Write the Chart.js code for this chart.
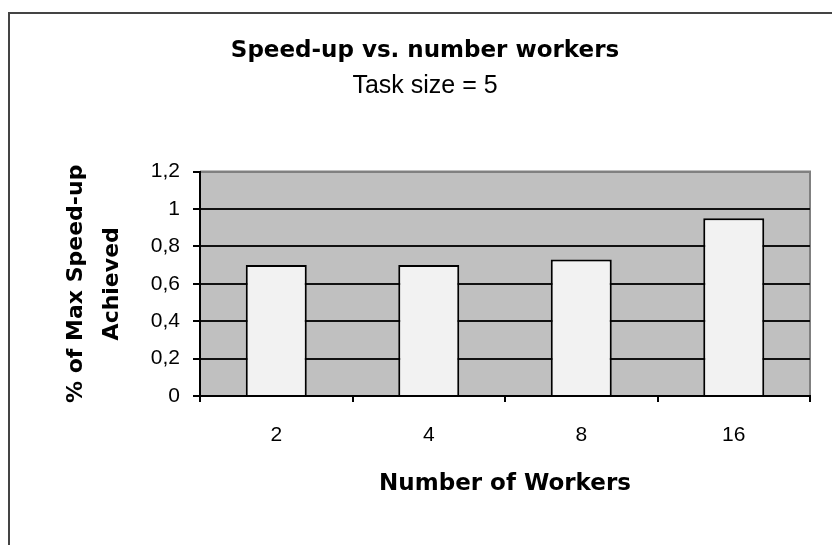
<!DOCTYPE html>
<html>
<head>
<meta charset="UTF-8">
<title>Speed-up vs. number workers</title>
<style>
  body { margin: 0; background: #fff; overflow: hidden; }
  /* outer chart frame, runs off the right/bottom edge like the screenshot */
  #frame { position: absolute; left: 8px; top: 12px; width: 900px; height: 700px; border: 2px solid #444; }
  #wrap { position: absolute; left: 0; top: 0; width: 832px; height: 545px; }
</style>
</head>
<body>
<div id="frame"></div>
<div id="wrap"><canvas id="barChart" width="832" height="545"></canvas></div>

<script src="https://cdn.jsdelivr.net/npm/chart.js"></script>
<script>
// data
const workers = ['2', '4', '8', '16'];
const speedup = [0.7, 0.7, 0.73, 0.95];
const yTicks = [0, 0.2, 0.4, 0.6, 0.8, 1, 1.2];

// gray plot area + gray top/right edge (Excel style)
const plotBg = {
  id: 'plotBg',
  beforeDraw(chart) {
    const { ctx, chartArea: a } = chart;
    ctx.save();
    ctx.fillStyle = '#c0c0c0';
    ctx.fillRect(a.left, a.top, a.right - a.left, a.bottom - a.top);
    ctx.strokeStyle = '#808080';
    ctx.lineWidth = 2;
    ctx.beginPath();
    ctx.moveTo(a.left, a.top);
    ctx.lineTo(a.right, a.top);
    ctx.lineTo(a.right, a.bottom);
    ctx.stroke();
    ctx.restore();
  }
};

const ctx = document.getElementById('barChart').getContext('2d');
new Chart(ctx, {
  type: 'bar',
  data: {
    labels: workers,
    datasets: [{
      label: 'Speed-up',
      data: speedup,
      backgroundColor: '#f2f2f2',
      borderColor: '#000',
      borderWidth: 2,
      barPercentage: 0.4,
      categoryPercentage: 1
    }]
  },
  options: {
    responsive: false,
    animation: false,
    // left/right padding also centres the titles around x=425
    layout: { padding: { left: 40, right: 22, top: 0, bottom: 0 } },
    plugins: {
      legend: { display: false },
      tooltip: { enabled: false },
      title: {
        display: true,
        text: 'Speed-up vs. number workers',
        color: '#000',
        font: { family: 'DejaVu Sans', size: 23, weight: 'bold', lineHeight: 1.2 },
        padding: { top: 37, bottom: 0 }
      },
      subtitle: {
        display: true,
        text: 'Task size = 5',
        color: '#000',
        font: { family: 'Liberation Sans', size: 25, lineHeight: 1.2 },
        padding: { top: 7, bottom: 70 }
      }
    },
    scales: {
      x: {
        afterFit: (s) => { s.height = 149; },
        grid: { offset: true, drawOnChartArea: false, drawTicks: true, tickLength: 6, color: '#000', lineWidth: 2 },
        border: { color: '#000', width: 2 },
        ticks: { color: '#000', padding: 21, font: { family: 'Liberation Sans', size: 21 } },
        title: {
          display: true,
          text: 'Number of Workers',
          color: '#000',
          font: { family: 'DejaVu Sans', size: 23, weight: 'bold', lineHeight: 1.2 },
          padding: { top: 0, bottom: 47 }
        }
      },
      y: {
        min: 0,
        max: 1.2,
        afterFit: (s) => { s.width = 160; },
        afterBuildTicks: (s) => { s.ticks = yTicks.map(v => ({ value: v })); },
        grid: {
          color: (c) => (c.tick && c.tick.value === 1.2) ? '#808080' : '#111',
          tickColor: '#000',
          lineWidth: 2,
          tickLength: 7
        },
        border: { color: '#000', width: 2 },
        ticks: {
          color: '#000',
          padding: 13,
          font: { family: 'Liberation Sans', size: 21 },
          callback: (v) => String(v).replace('.', ',')
        },
        title: {
          display: true,
          text: ['% of Max Speed-up', 'Achieved'],
          color: '#000',
          font: { family: 'DejaVu Sans', size: 22, weight: 'bold', lineHeight: 1.6 },
          padding: { top: 19, bottom: 0 }
        }
      }
    }
  },
  plugins: [plotBg]
});
</script>
</body>
</html>
